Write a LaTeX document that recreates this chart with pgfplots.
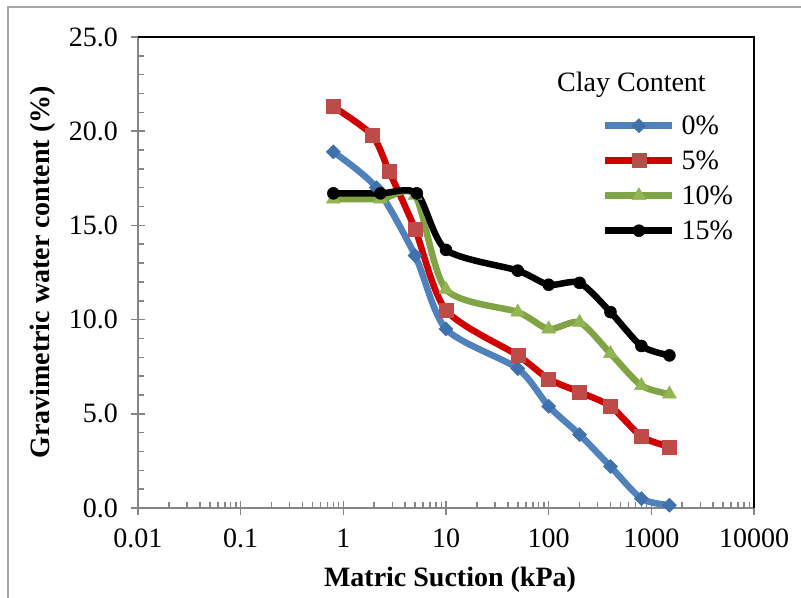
\documentclass[border=0pt]{standalone}
\usepackage{fontspec}
\setmainfont{Liberation Serif}
\usepackage{pgfplots}
\pgfplotsset{compat=1.18}
\definecolor{axgray}{HTML}{868686}
\definecolor{bline}{HTML}{4F81BD}
\definecolor{bmark}{HTML}{3F71AD}
\definecolor{rline}{HTML}{D00000}
\definecolor{rmark}{HTML}{BE4B48}
\definecolor{gline}{HTML}{80A344}
\definecolor{gmark}{HTML}{92B553}
\begin{document}
\begin{tikzpicture}[font=\fontsize{28bp}{34bp}\selectfont]
\draw[color=black!35, line width=1.5bp] (8bp,0bp) -- (8bp,591bp) -- (801bp,591bp);
\begin{axis}[
  at={(138bp,90bp)}, anchor=south west,
  scale only axis, width=616bp, height=471bp,
  xmode=log, xmin=0.01, xmax=10000, ymin=0, ymax=25,
  clip=false,
  axis x line*=bottom, axis y line*=left,
  axis line style={draw=axgray, line width=2bp},
  xtick={0.01,0.1,1,10,100,1000,10000},
  xticklabels={0.01,0.1,1,10,100,1000,10000},
  minor xtick={0.02,0.03,0.04,0.05,0.06,0.07,0.08,0.09,0.2,0.3,0.4,0.5,0.6,0.7,0.8,0.9,2,3,4,5,6,7,8,9,20,30,40,50,60,70,80,90,200,300,400,500,600,700,800,900,2000,3000,4000,5000,6000,7000,8000,9000},
  ytick={0,5,10,15,20,25},
  yticklabels={0.0,5.0,10.0,15.0,20.0,25.0},
  minor ytick={1,2,3,4,6,7,8,9,11,12,13,14,16,17,18,19,21,22,23,24},
  tick align=inside, major tick length=14bp, minor tick length=6bp,
  tick style={draw=axgray, line width=1.5bp},
  major x tick style={yshift=-7bp},
  major y tick style={xshift=-7bp},
  xticklabel style={anchor=north, inner sep=0pt, yshift=-21bp},
  yticklabel style={anchor=east, inner sep=0pt, xshift=-20bp},
  xlabel={\bfseries Matric Suction (kPa)},
  xlabel style={at={(axis description cs:0.5065,-0.1677)}, anchor=base, inner sep=0pt},
  ylabel={\bfseries Gravimetric water content (\%)},
  ylabel style={at={(axis description cs:-0.14286,0.5)}, anchor=base, inner sep=0pt, rotate=0},
  legend style={at={(axis description cs:0.7532,0.8344)}, anchor=north west,
    draw=none, fill=none, inner sep=0pt, row sep=14bp, column sep=6bp,
    nodes={inner sep=0pt, text height=19bp, text depth=2bp}},
  legend cell align=left,
  legend image code/.code={\draw[#1, mark repeat=2, mark phase=2] plot coordinates {(0bp,0bp) (33.5bp,0bp) (67bp,0bp)};},
]
\draw[black, line width=2bp] (rel axis cs:0,1) -- (rel axis cs:1,1) -- (rel axis cs:1,0);

\addplot[color=bline, line width=6.5bp, smooth, tension=0.45, mark=square*, mark size=5bp,
  mark options={rotate=45, fill=bmark, draw=bmark, line width=0.5bp}]
  coordinates {(0.8,18.9) (2.1,17.0) (5,13.4) (10,9.5) (50,7.4) (100,5.4) (200,3.9) (400,2.2) (800,0.5) (1500,0.15)};
\addlegendentry{0\%}
\addplot[color=rline, line width=6.5bp, smooth, tension=0.45, mark=square*, mark size=7bp,
  mark options={fill=rmark, draw=rmark, line width=0.5bp}]
  coordinates {(0.8,21.3) (1.9,19.8) (2.8,17.85) (5,14.8) (10,10.5) (50,8.1) (100,6.85) (200,6.15) (400,5.4) (800,3.8) (1500,3.25)};
\addlegendentry{5\%}
\addplot[color=gline, line width=6.5bp, smooth, tension=0.45, mark=triangle*, mark size=8bp,
  mark options={fill=gmark, draw=gmark, line width=0.5bp}]
  coordinates {(0.8,16.4) (2.3,16.4) (5,16.6) (10,11.6) (50,10.4) (100,9.5) (200,9.85) (400,8.2) (800,6.5) (1500,6.05)};
\addlegendentry{10\%}
\addplot[color=black, line width=6.5bp, smooth, tension=0.45, mark=*, mark size=6bp,
  mark options={fill=black, draw=black, line width=0.5bp}]
  coordinates {(0.8,16.7) (2.3,16.7) (5.2,16.7) (10,13.7) (50,12.6) (100,11.85) (200,11.95) (400,10.4) (800,8.6) (1500,8.1)};
\addlegendentry{15\%}
\end{axis}
\node[anchor=base west, inner sep=0pt] at (557bp,506bp) {Clay Content};
\pgfresetboundingbox
\useasboundingbox (0bp,0bp) rectangle (801bp,598bp);
\end{tikzpicture}
\end{document}
